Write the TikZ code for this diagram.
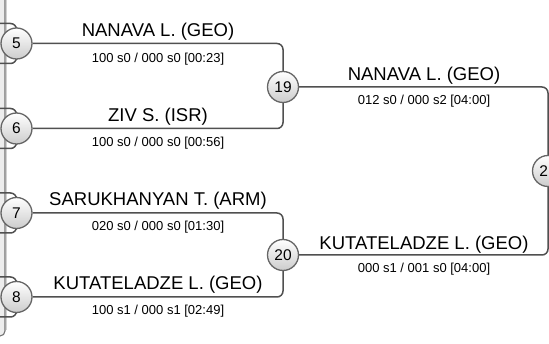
\documentclass[tikz,border=0pt]{standalone}
\usepackage{fontspec}
\setmainfont{Liberation Sans}
\usetikzlibrary{backgrounds}
\definecolor{linegray}{HTML}{505050}
\definecolor{circgray}{HTML}{666666}
\definecolor{barfill}{HTML}{EDEDED}
\begin{document}
\begin{tikzpicture}[x=1pt,y=-1pt,
 conn/.style={draw=linegray, line width=1.5pt, rounded corners=6pt},
 seed/.style={circle, draw=circgray, line width=1.3pt, minimum size=31pt, inner sep=0pt, top color=white, bottom color=black!20, font=\fontsize{15.5}{16}\selectfont},
 pname/.style={anchor=base, font=\fontsize{18.5}{20}\selectfont, inner sep=0pt},
 pscore/.style={anchor=base, font=\fontsize{13}{14}\selectfont, inner sep=0pt}]
\useasboundingbox (0,0) rectangle (549,344);
\clip (0,0) rectangle (549,344);
% seeds
\node[seed] (c5) at (16.5,43.5) {5};
\node[seed] (c6) at (16.5,128.5) {6};
\node[seed] (c7) at (16.5,213) {7};
\node[seed] (c8) at (16.5,297) {8};
\node[seed] (c19) at (283,87) {19};
\node[seed] (c20) at (283,255) {20};
\node[seed] (c21) at (548,171) {21};
% bracket stubs from previous round
\coordinate (s5a) at (0,23.5);  \coordinate (s5b) at (0,63.5);
\coordinate (s6a) at (0,108.5); \coordinate (s6b) at (0,148.5);
\coordinate (s7a) at (0,193);   \coordinate (s7b) at (0,233);
\coordinate (s8a) at (0,277);   \coordinate (s8b) at (0,317);
\begin{scope}[on background layer]
  % left panel edge
  \draw[fill=barfill, draw=black!55, line width=1.1pt, rounded corners=5pt] (-20,-20) rectangle (5,336);
  \draw[black!18, line width=1pt] (6.6,0) -- (6.6,330);
  \foreach \s/\c in {s5a/c5,s5b/c5,s6a/c6,s6b/c6,s7a/c7,s7b/c7,s8a/c8,s8b/c8}
    \draw[conn] (\s) -| (\c);
  \draw[conn] (c5) -- (c5 -| c19) -- (c19);
  \draw[conn] (c6) -- (c6 -| c19) -- (c19);
  \draw[conn] (c7) -- (c7 -| c20) -- (c20);
  \draw[conn] (c8) -- (c8 -| c20) -- (c20);
  \draw[conn] (c19) -- (c19 -| c21) -- (c21);
  \draw[conn] (c20) -- (c20 -| c21) -- (c21);
\end{scope}
% texts
\node[pname] (n5) at (158,37) {NANAVA L. (GEO)};
\node[pscore] (r5) at (158,62.5) {100 s0 / 000 s0 [00:23]};
\node[pname] (n6) at (158,121.7) {ZIV S. (ISR)};
\node[pscore] (r6) at (158,146.7) {100 s0 / 000 s0 [00:56]};
\node[pname] (n7) at (158,205.5) {SARUKHANYAN T. (ARM)};
\node[pscore] (r7) at (158,231) {020 s0 / 000 s0 [01:30]};
\node[pname] (n8) at (158,290) {KUTATELADZE L. (GEO)};
\node[pscore] (r8) at (158,314.5) {100 s1 / 000 s1 [02:49]};
\node[pname] (n19) at (424,80.5) {NANAVA L. (GEO)};
\node[pscore] (r19) at (424,104.5) {012 s0 / 000 s2 [04:00]};
\node[pname] (n20) at (424,250) {KUTATELADZE L. (GEO)};
\node[pscore] (r20) at (424,272.5) {000 s1 / 001 s0 [04:00]};
\end{tikzpicture}
\end{document}
